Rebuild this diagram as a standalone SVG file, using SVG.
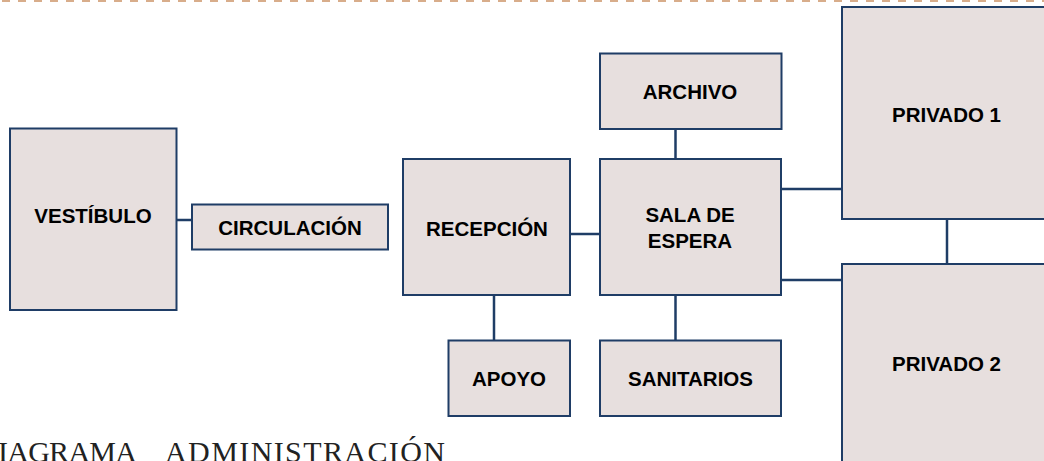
<svg xmlns="http://www.w3.org/2000/svg" width="1044" height="461" viewBox="0 0 1044 461">
<style>
.box{fill:#e7dfde;stroke:#1f3d66;stroke-width:2}
.lbl{font-family:"Liberation Sans",Arial,sans-serif;font-weight:bold;font-size:20.5px;fill:#000;text-anchor:middle}
.con{stroke:#1f3d66;stroke-width:2.5;fill:none}
.title{font-family:"Liberation Serif","Times New Roman",serif;font-size:30px;fill:#222}
</style>
<rect width="1044" height="461" fill="#fff"/>
<line x1="2" y1="1" x2="1044" y2="1" stroke="#d8ad8b" stroke-width="2" stroke-dasharray="8 8"/>
<g id="connectors">
<line class="con" x1="176" y1="220" x2="192" y2="220"/>
<line class="con" x1="570" y1="234" x2="600" y2="234"/>
<line class="con" x1="675.5" y1="114" x2="675.5" y2="159"/>
<line class="con" x1="675.5" y1="295" x2="675.5" y2="340"/>
<line class="con" x1="494" y1="295" x2="494" y2="340"/>
<line class="con" x1="781" y1="189" x2="842" y2="189"/>
<line class="con" x1="781" y1="280" x2="842" y2="280"/>
<line class="con" x1="947" y1="219" x2="947" y2="264"/>
</g>
<g id="vestibulo"><rect class="box" x="10" y="128.5" width="166.5" height="181.5"/><text class="lbl" x="93" y="223">VESTÍBULO</text></g>
<g id="circulacion"><rect class="box" x="192" y="204.5" width="196" height="45"/><text class="lbl" x="290" y="234.5">CIRCULACIÓN</text></g>
<g id="recepcion"><rect class="box" x="403" y="159" width="167" height="136"/><text class="lbl" x="487" y="236">RECEPCIÓN</text></g>
<g id="archivo"><rect class="box" x="600" y="53.5" width="181.5" height="75.5"/><text class="lbl" x="690" y="99">ARCHIVO</text></g>
<g id="sala"><rect class="box" x="600" y="159" width="181" height="136"/><text class="lbl" x="690" y="221.5">SALA DE</text><text class="lbl" x="690" y="247.5">ESPERA</text></g>
<g id="apoyo"><rect class="box" x="448.5" y="340.5" width="121.5" height="75.5"/><text class="lbl" x="509" y="386">APOYO</text></g>
<g id="sanitarios"><rect class="box" x="600" y="340.5" width="181" height="75.5"/><text class="lbl" x="690.5" y="386">SANITARIOS</text></g>
<g id="privado1"><rect class="box" x="842" y="7" width="210" height="212"/><text class="lbl" x="946.5" y="121.5">PRIVADO 1</text></g>
<g id="privado2"><rect class="box" x="842" y="264" width="210" height="210"/><text class="lbl" x="946.5" y="370.5">PRIVADO 2</text></g>
<text class="title" x="-23" y="462" textLength="160" lengthAdjust="spacing">DIAGRAMA</text>
<text class="title" x="165" y="462" textLength="280" lengthAdjust="spacing">ADMINISTRACIÓN</text>
</svg>
